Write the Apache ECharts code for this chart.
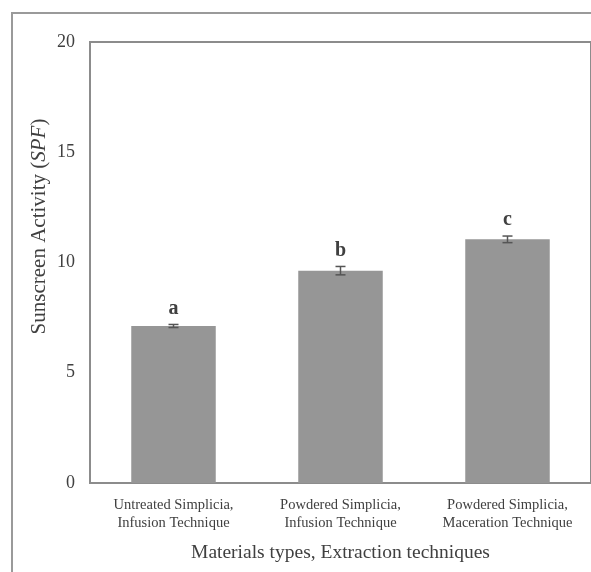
<!DOCTYPE html>
<html>
<head>
<meta charset="utf-8">
<script src="https://cdn.jsdelivr.net/npm/echarts@6/dist/echarts.min.js"></script>
<style>
  html, body { margin: 0; padding: 0; background: #fff; }
  #chart { width: 591px; height: 572px; }
</style>
</head>
<body>
<div id="chart"></div>
<script>
// Sunscreen activity (SPF) by material type and extraction technique
const categories = [
  'Untreated Simplicia,\nInfusion Technique',
  'Powdered Simplicia,\nInfusion Technique',
  'Powdered Simplicia,\nMaceration Technique'
];
const spfMeans = [7.12, 9.63, 11.05];
const spfErrors = [0.07, 0.19, 0.15];
const groupLetters = ['a', 'b', 'c'];
const yTicks = { min: 0, max: 20, interval: 5 };

const SERIF = '"Liberation Serif", "DejaVu Serif", serif';
const TEXT = '#404040';

const chart = echarts.init(document.getElementById('chart'), null, { renderer: 'canvas' });

chart.setOption({
  backgroundColor: '#fff',
  animation: false,
  textStyle: { fontFamily: SERIF },
  graphic: [
    {
      // outer frame around the whole figure
      type: 'rect',
      shape: { x: 12, y: 13, width: 620, height: 620 },
      style: { fill: 'none', stroke: '#9a9a9a', lineWidth: 2 },
      z: -1,
      silent: true
    }
  ],
  grid: {
    left: 90,
    top: 42,
    width: 504,
    height: 441,
    show: true,
    borderColor: '#8c8c8c',
    borderWidth: 2,
    backgroundColor: 'transparent'
  },
  xAxis: {
    type: 'category',
    data: categories,
    axisLine: { show: false },
    axisTick: { show: false },
    axisLabel: {
      color: TEXT,
      fontFamily: SERIF,
      fontSize: 14.5,
      lineHeight: 18,
      margin: 13,
      interval: 0
    },
    name: 'Materials types, Extraction techniques',
    nameLocation: 'middle',
    nameGap: 60,
    nameTextStyle: { color: TEXT, fontFamily: SERIF, fontSize: 19.5 }
  },
  yAxis: {
    type: 'value',
    min: yTicks.min,
    max: yTicks.max,
    interval: yTicks.interval,
    axisLine: { show: false },
    axisTick: { show: false },
    splitLine: { show: false },
    axisLabel: {
      color: TEXT,
      fontFamily: SERIF,
      fontSize: 18,
      margin: 15
    },
    name: 'Sunscreen Activity ({i|SPF})',
    nameLocation: 'middle',
    nameRotate: 90,
    nameGap: 40,
    nameMoveOverlap: false,
    nameTextStyle: {
      color: TEXT,
      fontFamily: SERIF,
      fontSize: 21,
      padding: [0, 0, 0, 72],
      rich: {
        i: { fontStyle: 'italic', fontFamily: SERIF, fontSize: 21, color: TEXT }
      }
    }
  },
  series: [
    {
      type: 'bar',
      data: spfMeans,
      barWidth: '50.6%',
      itemStyle: { color: '#969696' },
      z: 2
    },
    {
      // error bars with group letters above them
      type: 'custom',
      z: 3,
      data: spfMeans.map((m, i) => [i, m - spfErrors[i], m + spfErrors[i]]),
      renderItem: function (params, api) {
        const lo = api.coord([api.value(0), api.value(1)]);
        const hi = api.coord([api.value(0), api.value(2)]);
        const cap = 5;
        const st = { stroke: '#555', lineWidth: 1.5 };
        return {
          type: 'group',
          children: [
            { type: 'line', shape: { x1: hi[0], y1: hi[1], x2: lo[0], y2: lo[1] }, style: st },
            { type: 'line', shape: { x1: hi[0] - cap, y1: hi[1], x2: hi[0] + cap, y2: hi[1] }, style: st },
            { type: 'line', shape: { x1: lo[0] - cap, y1: lo[1], x2: lo[0] + cap, y2: lo[1] }, style: st },
            {
              type: 'text',
              x: hi[0],
              y: hi[1] - 6,
              style: {
                text: groupLetters[params.dataIndex],
                fill: '#404040',
                font: 'bold 20px ' + SERIF,
                align: 'center',
                verticalAlign: 'bottom'
              }
            }
          ]
        };
      },
      encode: { x: 0, y: 2 }
    }
  ]
});
</script>
</body>
</html>
